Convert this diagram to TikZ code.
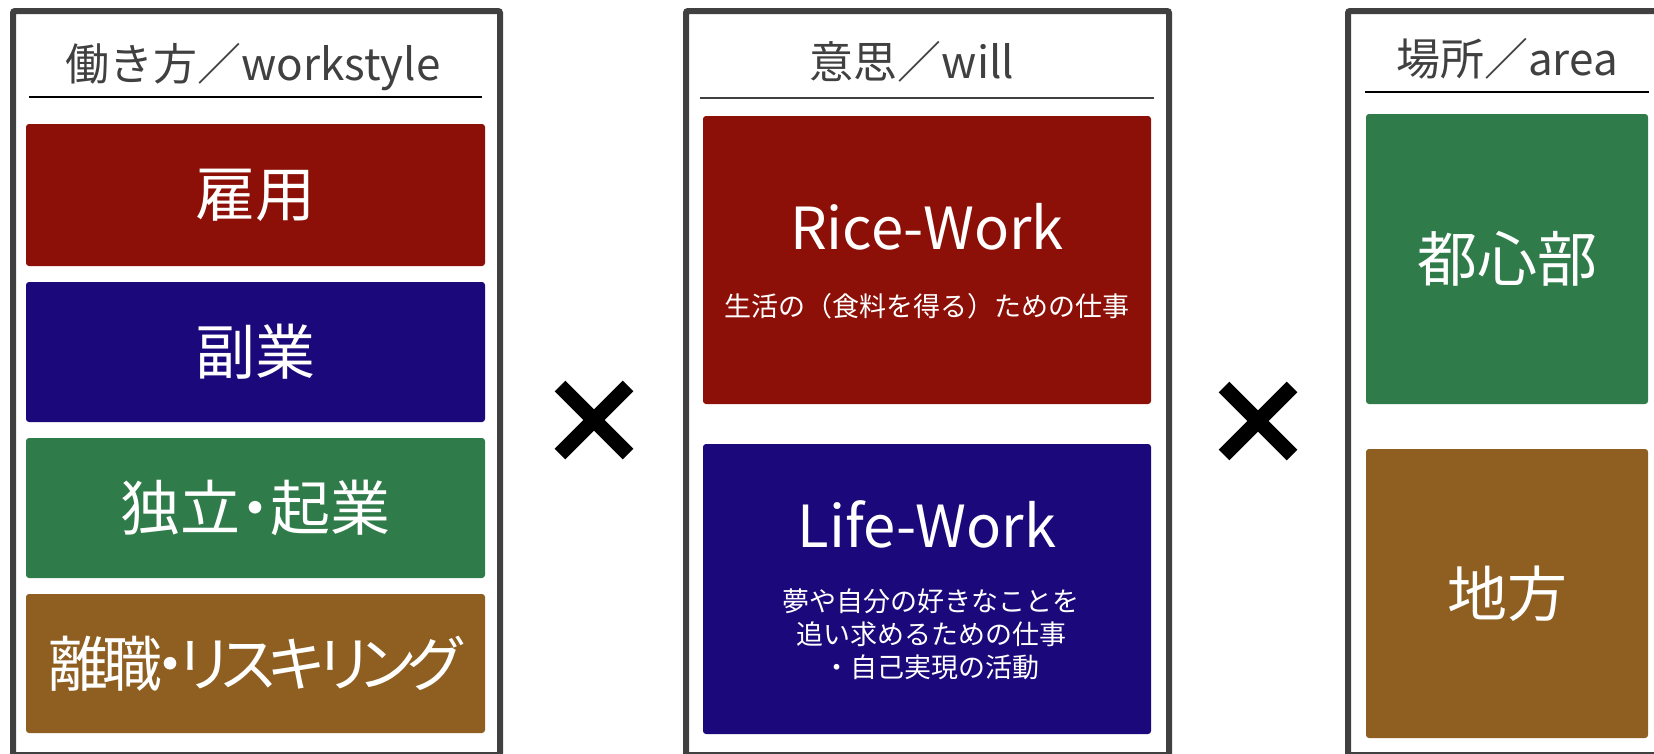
\documentclass[tikz,border=0pt]{standalone}
\usepackage{fontspec}
\setmainfont{Noto Sans CJK JP}
\newfontfamily\jpprop[RawFeature=+palt]{Noto Sans CJK JP}
\usetikzlibrary{positioning}

\definecolor{frameGray}{HTML}{404040}
\definecolor{riceRed}{HTML}{8D1008}
\definecolor{lifeBlue}{HTML}{1B087A}
\definecolor{cityGreen}{HTML}{307B4A}
\definecolor{localBrown}{HTML}{8E5F21}

\tikzset{
  panel/.style={draw=frameGray, line width=6pt, rounded corners=2pt,
    inner sep=0pt},
  heading/.style={text=frameGray, anchor=base, inner sep=0pt,
    font=\fontsize{44}{52}\selectfont},
  headrule/.style={line width=2.5pt},
  cell/.style={rectangle, rounded corners=3pt, inner sep=0pt,
    text=white, fill=#1},
  bigword/.style={font=\jpprop\fontsize{60}{66}\selectfont},
  title/.style={text=white, anchor=base, inner sep=0pt,
    font=\fontsize{58}{66}\selectfont},
  note/.style={text=white, align=center, inner sep=0pt,
    font=\fontsize{27}{33}\selectfont},
  cross/.style={line width=15pt, black}
}

\begin{document}
\begin{tikzpicture}[x=1pt, y=-1pt]

\useasboundingbox (0,0) rectangle (1654,753);
\clip (0,0) rectangle (1654,753);

% Frames
\node[panel, minimum width=487pt, minimum height=744pt] (styleFrame) at (256.5,383) {};
\node[panel, minimum width=483pt, minimum height=744pt] (willFrame) at (927.5,383) {};
\node[panel, minimum width=360pt, minimum height=744pt] (areaFrame) at (1528,383) {};

% Headings
\node[heading] (styleHead) at (253,80) {働き方／workstyle};
\node[heading] (willHead) at (912,78) {意思／will};
\node[heading] (areaHead) at (1507,75) {場所／area};

\draw[headrule, black] (29,97) -- (482,97);
\draw[headrule, frameGray] (700,98) -- (1154,98);
\draw[headrule, black] (1365,92) -- (1649,92);

% Workstyle
\node[cell=riceRed, bigword, minimum width=459pt, minimum height=142pt] (koyo) at (255.5,195) {雇用};
\node[cell=lifeBlue, bigword, minimum width=459pt, minimum height=140pt] (fukugyo) at (255.5,352) {副業};
\node[cell=cityGreen, bigword, minimum width=459pt, minimum height=140pt] (kigyo) at (255.5,508) {独立・起業};
\node[cell=localBrown, bigword, minimum width=459pt, minimum height=139pt] (reskill) at (255.5,663.5)
  {\addfontfeature{LetterSpace=-11}離職・リスキリング};

% Will
\node[cell=riceRed, minimum width=448pt, minimum height=288pt] (rice) at (927,260) {};
\node[title] (riceTitle) at (927,249) {Rice-Work};
\node[note] (riceNote) at (927,306) {生活の（食料を得る）ための仕事};

\node[cell=lifeBlue, minimum width=448pt, minimum height=290pt] (life) at (927,589) {};
\node[title] (lifeTitle) at (927,547) {Life-Work};
\node[note] (lifeNote) at (931,634) {夢や自分の好きなことを\\追い求めるための仕事\\・自己実現の活動};

% Area
\node[cell=cityGreen, bigword, minimum width=282pt, minimum height=290pt] (toshin) at (1507,259) {都心部};
\node[cell=localBrown, bigword, minimum width=282pt, minimum height=289pt] (chiho) at (1507,593.5) {地方};

% Crosses
\coordinate (crossA) at (594,420);
\coordinate (crossB) at (1258,421);
\foreach \c in {crossA,crossB}{
  \draw[cross] ([shift={(-34,-34)}]\c) -- ([shift={(34,34)}]\c);
  \draw[cross] ([shift={(-34,34)}]\c) -- ([shift={(34,-34)}]\c);
}

\end{tikzpicture}
\end{document}
